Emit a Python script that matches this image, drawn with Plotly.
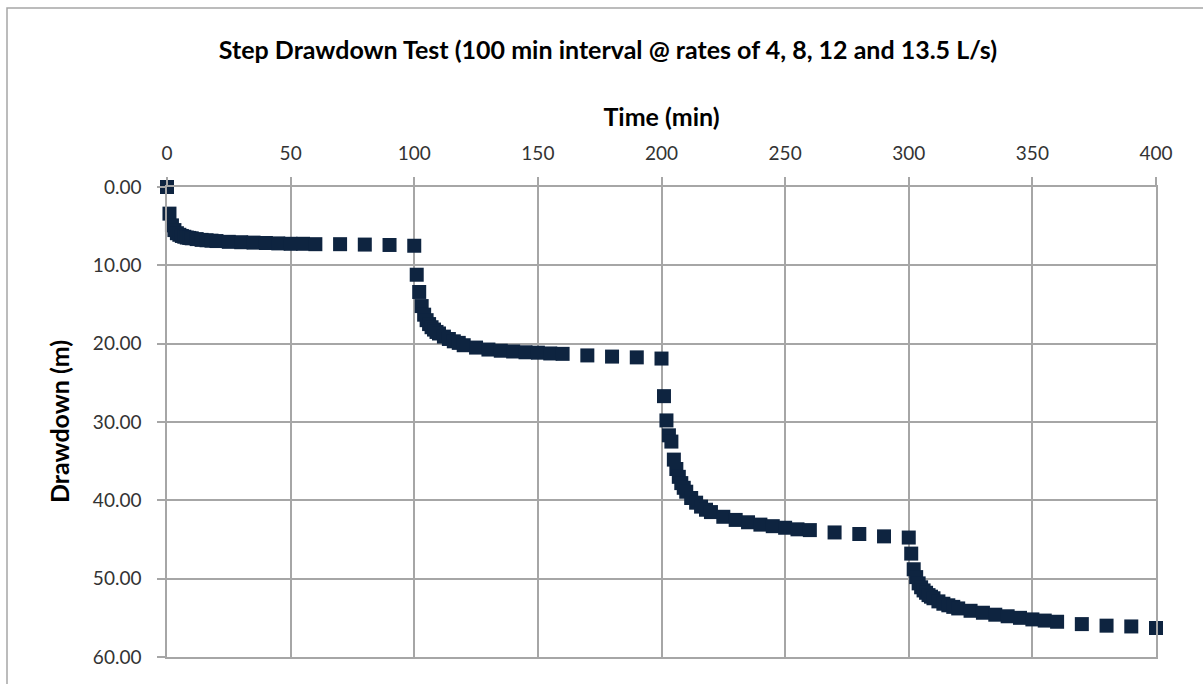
import plotly.graph_objects as go

# Time (min) and drawdown (m)
time_min = [
    0, 1, 2, 3, 4, 5, 6, 7, 8, 9, 10, 12, 14, 16, 18, 20, 25, 30, 35, 40, 45, 50, 55, 60, 70, 80, 90, 100,
    101, 102, 103, 104, 105, 106, 107, 108, 109, 110, 112, 114, 116, 118, 120, 125, 130, 135, 140, 145, 150, 155, 160, 170, 180, 190, 200,
    201, 202, 203, 204, 205, 206, 207, 208, 209, 210, 212, 214, 216, 218, 220, 225, 230, 235, 240, 245, 250, 255, 260, 270, 280, 290, 300,
    301, 302, 303, 304, 305, 306, 307, 308, 309, 310, 312, 314, 316, 318, 320, 325, 330, 335, 340, 345, 350, 355, 360, 370, 380, 390, 400,
]
drawdown_m = [
    0.0, 3.4, 4.9, 5.5, 5.9, 6.1, 6.25, 6.35, 6.45, 6.5, 6.55, 6.65, 6.75, 6.8, 6.85, 6.9, 7.0, 7.05, 7.1, 7.15, 7.2, 7.25, 7.25, 7.3, 7.3, 7.35, 7.4, 7.5,
    11.2, 13.4, 15.2, 16.3, 17.0, 17.5, 17.9, 18.2, 18.5, 18.7, 19.1, 19.4, 19.7, 19.9, 20.2, 20.5, 20.75, 20.9, 21.0, 21.1, 21.15, 21.25, 21.3, 21.5, 21.65, 21.75, 21.9,
    26.7, 29.8, 31.7, 32.5, 34.8, 36.0, 37.0, 37.8, 38.4, 38.9, 39.7, 40.3, 40.8, 41.2, 41.5, 42.1, 42.5, 42.8, 43.1, 43.3, 43.5, 43.7, 43.8, 44.1, 44.3, 44.6, 44.75,
    46.8, 48.8, 49.8, 50.6, 51.1, 51.5, 51.8, 52.1, 52.3, 52.5, 52.9, 53.2, 53.4, 53.6, 53.8, 54.1, 54.35, 54.6, 54.8, 55.0, 55.2, 55.35, 55.5, 55.8, 56.0, 56.1, 56.3,
]

x_ticks = [0, 50, 100, 150, 200, 250, 300, 350, 400]
y_ticks = [0, 10, 20, 30, 40, 50, 60]

title_text = "Step Drawdown Test (100 min interval @ rates of 4, 8, 12 and 13.5 L/s)"
x_title = "Time (min)"
y_title = "Drawdown (m)"

FONT = "Lato"
GRID = "#A6A6A6"
MARK = "#0E2440"
BOLD_SIZE = 25

fig = go.Figure()
fig.add_trace(go.Scatter(
    x=time_min, y=drawdown_m, mode="markers",
    marker=dict(symbol="square", size=14, color=MARK, line=dict(width=0)),
    cliponaxis=False, showlegend=False, hoverinfo="x+y",
))

fig.update_layout(
    width=1203, height=684,
    margin=dict(l=167, r=47, t=187, b=27, autoexpand=False),
    paper_bgcolor="white", plot_bgcolor="white",
    font=dict(family=FONT, color="#404040", size=19),
    title=dict(text="<b>" + title_text + "</b>", x=608 / 1203, xanchor="center",
               y=1 - 50 / 684, yanchor="middle", yref="container",
               font=dict(family=FONT, size=BOLD_SIZE, color="#000000")),
    xaxis=dict(
        side="top", range=[0, 400], tickvals=x_ticks, ticktext=[str(v) for v in x_ticks],
        showgrid=True, gridcolor=GRID, gridwidth=1.5, zeroline=False,
        showline=True, linecolor=GRID, linewidth=1.5, mirror=True,
        ticks="outside", ticklen=8, tickcolor=GRID, tickwidth=1.5,
        ticklabelstandoff=10, tickfont=dict(size=19, color="#333333"),
        title=dict(text="<b>" + x_title + "</b>", standoff=7,
                   font=dict(size=BOLD_SIZE, color="#000000")),
        automargin=False,
    ),
    yaxis=dict(
        range=[60, 0], tickvals=y_ticks, ticktext=[f"{v:.2f}" for v in y_ticks],
        showgrid=True, gridcolor=GRID, gridwidth=1.5, zeroline=False,
        showline=True, linecolor=GRID, linewidth=1.5, mirror=True,
        ticks="outside", ticklen=8, tickcolor=GRID, tickwidth=1.5,
        ticklabelstandoff=12, tickfont=dict(size=19, color="#333333"),
        automargin=False,
    ),
    annotations=[dict(
        text="<b>" + y_title + "</b>", textangle=-90, showarrow=False,
        xref="paper", yref="paper", x=(59 - 167) / 989, y=0.5,
        xanchor="center", yanchor="middle",
        font=dict(family=FONT, size=BOLD_SIZE, color="#000000"),
    )],
    shapes=[dict(
        type="rect", xref="paper", yref="paper",
        x0=(7 - 167) / 989, x1=(1230 - 167) / 989,
        y0=(657 - 720) / 470, y1=(657 - 8) / 470,
        line=dict(color="#A6A6A6", width=1.5), fillcolor="rgba(0,0,0,0)", layer="below",
    )],
)

fig.write_html("out.html")
